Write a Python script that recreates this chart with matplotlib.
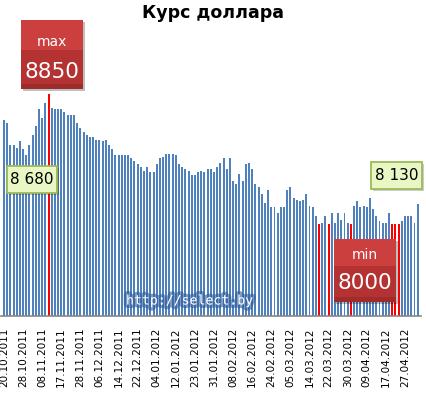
import matplotlib
matplotlib.use('Agg')
import matplotlib.pyplot as plt
from matplotlib.patches import Rectangle
import matplotlib.patheffects as pe
import numpy as np

# ---- data ----
values = [8680, 8660, 8520, 8520, 8500, 8540, 8490, 8450, 8520, 8580, 8640, 8750, 8690, 8790, 8850,
          8760, 8750, 8750, 8750, 8730, 8710, 8710, 8710, 8660, 8630, 8600, 8580, 8570, 8570, 8550,
          8550, 8540, 8550, 8520, 8490, 8450, 8450, 8450, 8450, 8450, 8430, 8410, 8390, 8370,
          8350, 8370, 8340, 8340, 8390, 8430, 8440, 8460, 8460, 8460, 8450, 8390, 8370, 8360, 8350,
          8320, 8320, 8340, 8350, 8340, 8360, 8360,
          8340, 8370, 8400, 8430, 8360, 8430, 8280, 8260, 8330, 8280, 8390, 8400, 8360, 8260, 8240,
          8200, 8140, 8220, 8110, 8110, 8070, 8110,
          8110, 8220, 8240, 8170, 8160, 8150, 8160, 8200, 8120, 8110, 8050, 8000, 8010, 8050, 8000,
          8070, 8010, 8070, 8030, 8070, 8010, 8000,
          8120, 8150, 8110, 8120, 8110, 8170, 8100, 8050, 8020, 8010, 8010, 8070, 8000, 8000, 8000,
          8020, 8050, 8050, 8050, 8010, 8130]
date_labels = ['20.10.2011', '28.10.2011', '08.11.2011', '17.11.2011', '28.11.2011', '06.12.2011',
               '14.12.2011', '22.12.2011', '04.01.2012', '12.01.2012', '23.01.2012', '31.01.2012',
               '08.02.2012', '16.02.2012', '24.02.2012', '05.03.2012', '14.03.2012', '22.03.2012',
               '30.03.2012', '09.04.2012', '17.04.2012', '27.04.2012']
label_step = 6
title = 'Курс доллара'
watermark = 'http://select.by'

vmax = max(values)
vmin = min(values)

def fmt_space(v):
    return f"{v:,}".replace(',', ' ')

W, H = 426, 393
fig = plt.figure(figsize=(W / 100, H / 100), dpi=100)
fig.patch.set_facecolor('white')

ax = fig.add_axes([1 / W, (H - 316) / H, 420 / W, 245 / H])
x = np.arange(len(values))
colors = ['#FF0000' if (v == vmax or v == vmin) else '#4F81BD' for v in values]
ax.bar(x, values, width=0.62, color=colors, linewidth=0)
ax.set_ylim(7400, 9000)
ax.set_xlim(-0.943, 131.04)
for s in ['top', 'left', 'right']:
    ax.spines[s].set_visible(False)
ax.spines['bottom'].set_color('#868686')
ax.spines['bottom'].set_linewidth(1.2)
ax.set_yticks([])
ax.set_xticks(x[::label_step][:len(date_labels)])
ax.set_xticklabels(date_labels, rotation=90, fontsize=7.5, family='DejaVu Sans')
ax.tick_params(axis='x', length=0, pad=8.5)
ax.patch.set_alpha(0)

# ---- overlay in pixel coords ----
oax = fig.add_axes([0, 0, 1, 1])
oax.set_xlim(0, W)
oax.set_ylim(H, 0)
oax.axis('off')
oax.patch.set_alpha(0)

oax.text(213, 13, title, ha='center', va='center', fontsize=12.5, weight='bold',
         family='DejaVu Sans', color='black')

def red_box(x0, y0, w, h, hsplit, top_txt, big_txt, ty1, ty2):
    oax.add_patch(Rectangle((x0 + 2, y0 + 2), w, h, fc='#000000', alpha=0.25, lw=0))
    oax.add_patch(Rectangle((x0, y0), w, hsplit, fc='#CB3F3F', lw=0))
    oax.add_patch(Rectangle((x0, y0 + hsplit), w, h - hsplit, fc='#B53232', lw=0))
    oax.add_patch(Rectangle((x0, y0 + h - 5), w, 5, fc='#A02B2B', lw=0))
    cx = x0 + w / 2
    oax.text(cx, ty1, top_txt, ha='center', va='center', fontsize=10, color='white')
    oax.text(cx, ty2, big_txt, ha='center', va='center', fontsize=15.5, color='white')

def green_box(x0, y0, w, h, txt):
    oax.add_patch(Rectangle((x0 + 2, y0 + 2), w, h, fc='#000000', alpha=0.2, lw=0))
    oax.add_patch(Rectangle((x0, y0), w, h, fc='#E8F7C4', ec='#9BBB59', lw=1.3))
    oax.text(x0 + w / 2, y0 + h / 2 + 0.5, txt, ha='center', va='center', fontsize=11, color='black')

red_box(21, 20, 62, 69, 30, 'max', str(vmax), 42, 72)
red_box(334, 239, 62, 63, 27, 'min', str(vmin), 255, 283)
green_box(7, 166, 50, 27, fmt_space(values[0]))
green_box(371, 162, 51, 27, fmt_space(values[-1]))

oax.text(190, 301, watermark, ha='center', va='center', fontsize=9.5, color='white',
         family='DejaVu Sans Mono',
         path_effects=[pe.withStroke(linewidth=5, foreground='#2F5C9A', alpha=0.6)])

fig.savefig('out.png', dpi=100)
